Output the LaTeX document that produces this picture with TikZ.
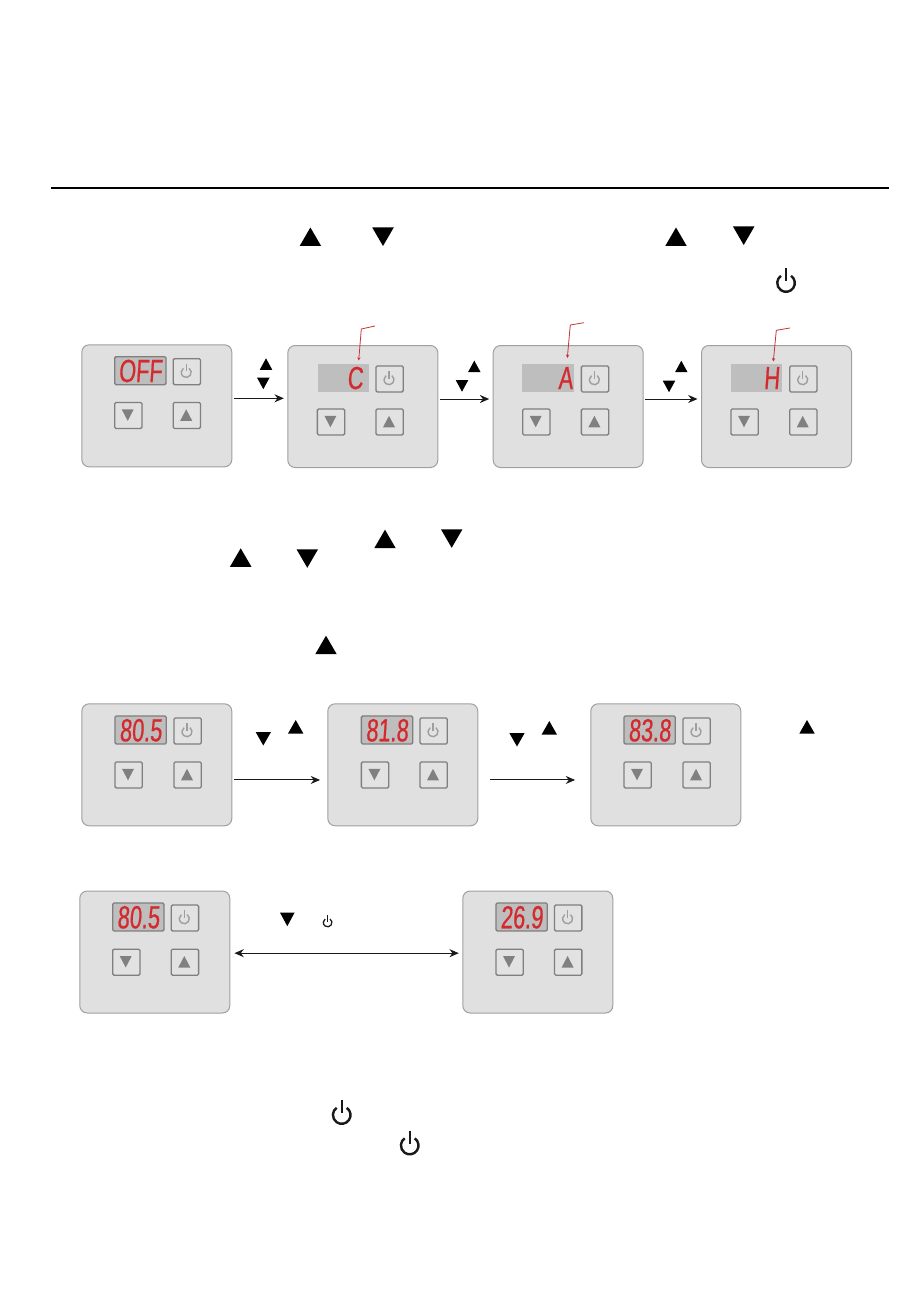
\documentclass[tikz,border=0pt]{standalone}
\usepackage{fontspec}
\usetikzlibrary{arrows.meta}
\newfontfamily\segfont[FakeStretch=0.68,FakeSlant=0.07,FakeBold=0.6]{Liberation Sans}
\definecolor{panelfill}{HTML}{E0E0E0}
\definecolor{panelline}{HTML}{A0A0A0}
\definecolor{btnline}{HTML}{7F7F7F}
\definecolor{dispfill}{HTML}{BEBEBE}
\definecolor{segred}{HTML}{D42A2E}
\definecolor{callred}{HTML}{C8323A}
\tikzset{
  panelbox/.style={draw=panelline,line width=0.75pt,fill=panelfill,rounded corners=5.5pt,
    minimum width=112.5pt,minimum height=91.5pt,inner sep=0pt,anchor=north west},
  btnbox/.style={draw=btnline,line width=1pt,fill=panelfill!95!white,rounded corners=1pt,
    minimum width=20.5pt,minimum height=19.5pt,inner sep=0pt,anchor=north west},
  dispon/.style={draw=btnline,line width=1pt,fill=dispfill,rounded corners=1pt,
    minimum width=38.5pt,minimum height=21pt,inner sep=0pt,anchor=north west},
  dispoff/.style={fill=dispfill,minimum width=38.5pt,minimum height=21.3pt,inner sep=0pt,anchor=north west},
  segtext/.style={inner sep=0pt,text=segred,font=\segfont\fontsize{24}{24}\selectfont,text height=17pt,text depth=0pt},
  flow/.style={line width=0.75pt,draw=black!90,-{Stealth[length=7pt,width=6pt]}},
  flowboth/.style={line width=0.75pt,draw=black!90,{Stealth[length=7pt,width=6pt]}-{Stealth[length=7pt,width=6pt]}},
  callout/.style={line width=0.6pt,draw=callred,-{Stealth[length=2.5pt,width=2.5pt]}},
}
% triangles: centre x, top y, width, height
\newcommand{\uptri}[5][black]{\fill[#1] (#2-#4/2,#3+#5) -- (#2+#4/2,#3+#5) -- (#2,#3) -- cycle;}
\newcommand{\dntri}[5][black]{\fill[#1] (#2-#4/2,#3) -- (#2+#4/2,#3) -- (#2,#3+#5) -- cycle;}
% power icon: centre x, centre y, radius, colour, line width
\newcommand{\pwricon}[5]{\begin{scope}[shift={(#1,#2)},yscale=-1]
  \draw[#4,line width=#5] (55:#3) arc (55:-235:#3);
  \draw[#4,line width=#5] (0,#3*1.7) -- (0,#3*0.2);
\end{scope}}
% panel: name,x,y,style of display,disp dx,disp dy,down dx,button row dy,power dx
\newcommand{\panel}[9]{%
  \node[panelbox] (#1) at (#2,#3) {};
  \node[#4] (#1-disp) at (#2+#5,#3+#6) {};
  \node[btnbox] (#1-pwr) at (#2+#9,#3+#6+2) {};
  \node[btnbox] (#1-dn) at (#2+#7,#3+#8) {};
  \node[btnbox] (#1-up) at (#2+#9,#3+#8) {};
  \coordinate (#1-l) at (#2-3.5,#3+54);
  \coordinate (#1-r) at (#2+152.5,#3+54);
  \pwricon{#2+#9+13.7}{#3+#6+2+14.4}{5}{black!38}{1.05pt}
  \dntri[black!50]{#2+#7+13.7}{#3+#8+7.5}{12}{11.5}
  \uptri[black!50]{#2+#9+13.7}{#3+#8+7.5}{12}{11.5}
}
\begin{document}
\begin{tikzpicture}[x=0.75pt,y=-0.75pt]
\useasboundingbox (0,0) rectangle (918,1298);
\fill[white] (0,0) rectangle (918,1298);
% top rule
\coordinate (ruleL) at (51,188);
\coordinate (ruleR) at (889,188);
\draw[black,line width=1.5pt] (ruleL) -- (ruleR);
% inline symbols, first paragraph
\uptri{310.4}{227.5}{21.5}{18.5}
\dntri{383}{227.5}{21.5}{18.5}
\uptri{676}{227.5}{21.5}{18.5}
\dntri{743.7}{226.5}{21.5}{18.5}
\pwricon{786}{283}{8.8}{black!90}{1.8pt}
% first row
\panel{pa}{81.3}{344.3}{dispon}{32.7}{11.7}{32.7}{57.5}{91.2}
\panel{pb}{287.3}{345}{dispoff}{30}{18.3}{29.4}{63.3}{88}
\panel{pc}{492.7}{345}{dispoff}{29.5}{18.3}{29.3}{63.3}{88}
\panel{pd}{701}{345}{dispoff}{29.5}{18.3}{29.3}{63.3}{88}
\node[segtext] (ta) at (pa-disp) {OFF};
\node[segtext,anchor=east,xshift=-4.5pt] (tb) at (pb-disp.east) {C};
\node[segtext,anchor=east,xshift=-0.8pt] (tc) at (pc-disp.east) {A};
\node[segtext,anchor=east,xshift=-2pt] (td) at (pd-disp.east) {H};
\draw[flow] (pa-r) -- (pa-r -| pb-l);
\draw[flow] (pb-r) -- (pb-r -| pc-l);
\draw[flow] (pc-r) -- (pc-r -| pd-l);
\uptri{266}{358.3}{12.5}{11.5}
\dntri{263.3}{377.7}{12.5}{11.5}
\uptri{474.3}{360.6}{12.5}{11.5}
\dntri{462}{380.2}{12.5}{11.5}
\uptri{681.3}{360.7}{12.5}{11.5}
\dntri{669}{380.7}{12.5}{11.5}
% callouts
\coordinate (cb) at (375,326);
\coordinate (cc) at (584,322.7);
\coordinate (cd) at (790,328);
\draw[callout] (cb) -- (361.3,329) -- (358.7,360.5);
\draw[callout] (cc) -- (570.3,325) -- (567.3,358);
\draw[callout] (cd) -- (776.3,330.3) -- (773.3,361.5);
% second paragraph symbols
\uptri{385}{529.7}{21.5}{18.5}
\dntri{451.7}{529.3}{21.5}{18.5}
\uptri{240.7}{548.3}{21.5}{18.5}
\dntri{307.3}{549.3}{21.5}{18.5}
\uptri{326}{635.7}{21.5}{18.5}
% second row
\panel{pe}{81.3}{703.3}{dispon}{33}{12}{33}{58}{92}
\panel{pf}{327.3}{703.3}{dispon}{33.4}{12}{33.4}{58}{92}
\panel{pg}{590.3}{703.3}{dispon}{33}{12}{33}{58}{92}
\node[segtext] (te) at (pe-disp) {80.5};
\node[segtext] (tf) at (pf-disp) {81.8};
\node[segtext] (tg) at (pg-disp) {83.8};
\draw[flow,shorten >=2.8pt] ([yshift=-17pt]pe-r) -- ([yshift=-17pt]pe-r -| pf-l);
\draw[flow,shorten <=7.5pt,shorten >=8.8pt] ([yshift=-17pt]pf-r) -- ([yshift=-17pt]pf-r -| pg-l);
\dntri{263.3}{732}{15.3}{13.5}
\uptri{295.7}{720}{15.3}{13.5}
\dntri{517}{733}{15.3}{13.5}
\uptri{549.3}{721}{15.3}{13.5}
\uptri{807}{720}{15.3}{13.5}
% third row
\panel{ph}{79.3}{890.5}{dispon}{32.7}{11.8}{32.7}{58}{91.3}
\panel{pi}{462.3}{890.5}{dispon}{33}{11.8}{33}{58}{91.6}
\node[segtext] (th) at (ph-disp) {80.5};
\node[segtext] (ti) at (pi-disp) {26.9};
\draw[flowboth,shorten <=2pt] ([yshift=-6.5pt]ph-r) -- ([yshift=-6.5pt]ph-r -| pi-l);
\dntri{287.3}{912.7}{14.5}{13.5}
\pwricon{327.6}{922.5}{4.3}{black!90}{0.95pt}
% last paragraph symbols
\pwricon{341.7}{1115}{8.8}{black!90}{1.8pt}
\pwricon{409.7}{1145.5}{8.8}{black!90}{1.8pt}
\end{tikzpicture}
\end{document}
